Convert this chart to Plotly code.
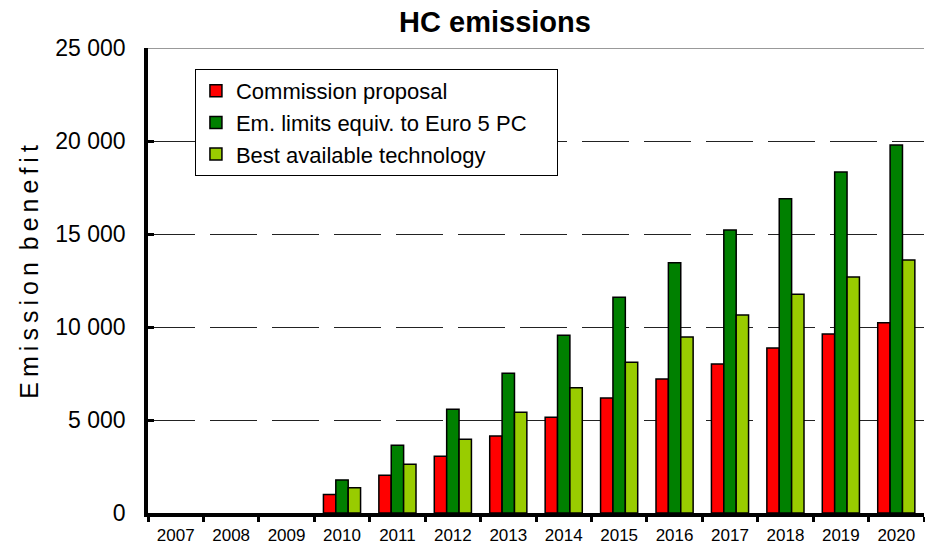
import plotly.graph_objects as go

years = ["2007", "2008", "2009", "2010", "2011", "2012", "2013", "2014",
         "2015", "2016", "2017", "2018", "2019", "2020"]
# no bars drawn for 2007-2009 (None = no value shown)
commission = [None, None, None, 1000, 2030, 3050, 4140, 5150, 6180, 7200, 8010, 8870, 9620, 10230]
euro5 = [None, None, None, 1780, 3640, 5580, 7520, 9550, 11600, 13450, 15220, 16900, 18330, 19790]
bat = [None, None, None, 1360, 2620, 3960, 5410, 6740, 8100, 9460, 10650, 11760, 12690, 13600]

series_names = ["Commission proposal", "Em. limits equiv. to Euro 5 PC\u00a0\u00a0\u00a0\u00a0", "Best available technology"]
series_values = [commission, euro5, bat]
series_colors = ["#FF0000", "#008000", "#99CC00"]

FONT = "Arial, 'Liberation Sans', sans-serif"

fig = go.Figure()
for name, vals, col in zip(series_names, series_values, series_colors):
    fig.add_trace(go.Bar(
        x=years, y=vals, name=name,
        marker=dict(color=col, line=dict(color="#000000", width=1.5)),
    ))

ytitle = "\u2009".join("Emission") + " \u2009" + "\u2009".join("benefit")

fig.update_layout(
    width=925, height=548,
    margin=dict(l=148, r=1, t=48, b=35, autoexpand=False),
    plot_bgcolor="white", paper_bgcolor="white",
    separators=". ",
    barmode="group", bargap=0.33, bargroupgap=0,
    font=dict(family=FONT, color="#000000"),
    title=dict(text="<b>HC emissions</b>", x=495 / 925, xanchor="center",
               y=1 - 22 / 548, yref="container", yanchor="middle",
               font=dict(size=29, family=FONT, color="#000000")),
    legend=dict(
        x=(195 - 148) / 777, y=(513 - 69) / 465, xanchor="left", yanchor="top",
        bordercolor="#000000", borderwidth=1, bgcolor="white",
        font=dict(size=22, family=FONT), tracegroupgap=0,
    ),
    showlegend=True,
)

fig.update_xaxes(
    type="category", showline=True, linecolor="#000000", linewidth=3.5,
    ticks="outside", tickson="boundaries", ticklen=5, tickwidth=2.5, tickcolor="#000000",
    tickfont=dict(size=17, family=FONT), showgrid=False, ticklabelstandoff=4,
    automargin=False,
)
fig.update_yaxes(
    range=[0, 25000], dtick=5000, tickformat=",d",
    showline=True, linecolor="#000000", linewidth=3.5,
    ticks="inside", ticklen=6, tickwidth=3, tickcolor="#000000",
    tickfont=dict(size=23, family=FONT), ticklabelstandoff=14,
    showgrid=True, gridcolor="#222222", gridwidth=1, griddash="47px,15px",
    zeroline=False, automargin=False,
)
fig.add_shape(type="line", xref="paper", yref="y", x0=0, x1=1, y0=25000, y1=25000,
              line=dict(color="#999999", width=2), layer="above")
fig.add_annotation(text=ytitle, textangle=-90, xref="paper", yref="paper",
                   x=(28 - 148) / 777, y=(513 - 271.5) / 465,
                   xanchor="center", yanchor="middle", showarrow=False,
                   font=dict(size=25, family=FONT, color="#000000"))

fig.write_html("out.html", config={"displayModeBar": False},
               post_script="document.body.style.margin='0';")
